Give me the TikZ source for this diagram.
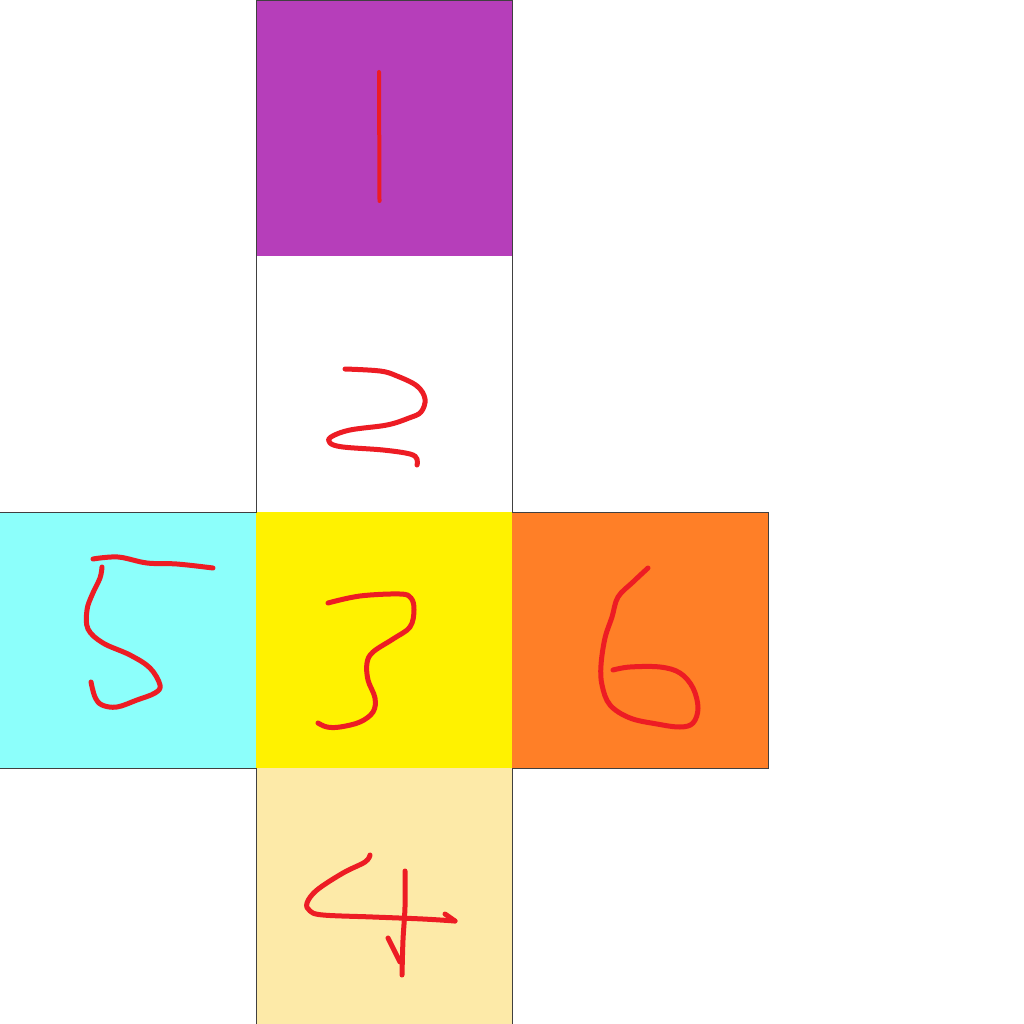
\documentclass[tikz,border=0pt]{standalone}
\begin{document}
\begin{tikzpicture}[x=1pt,y=-1pt,
  ink/.style={draw=inkred,line width=5pt,line cap=round,line join=round},
  edge/.style={draw=black!75,line width=0.8pt}]
\definecolor{inkred}{HTML}{ED1C24}
\definecolor{cpurple}{HTML}{B63EBA}
\definecolor{ccyan}{HTML}{8CFFFB}
\definecolor{cyellow}{HTML}{FFF200}
\definecolor{corange}{HTML}{FF7F27}
\definecolor{clight}{HTML}{FDEAA8}
\useasboundingbox (0,0) rectangle (1024,1024);
\fill[white] (0,0) rectangle (1024,1024);
% faces
\fill[cpurple] (256,0) rectangle (512,256);
\fill[white] (256,256) rectangle (512,512);
\fill[ccyan] (0,512) rectangle (256,768);
\fill[cyellow] (256,512) rectangle (512,768);
\fill[corange] (512,512) rectangle (768,768);
\fill[clight] (256,768) rectangle (512,1024);
% outline
\draw[edge] (0,768) -- (256,768) -- (256,1024) -- (512,1024) -- (512,768) -- (768,768) -- (768,512) -- (512,512) -- (512,0) -- (256,0) -- (256,512) -- (0,512);
% 1
\draw[ink,line width=4pt] (379,72) -- (379.5,201);
% 2
\draw[ink] plot[smooth,tension=0.6] coordinates {(345,369) (380,371) (397,376) (417,386) (425,399) (421,412) (409,418) (387,425) (350,430) (331,437) (330,443) (343,447) (383,450) (410,454) (417,459) (417,465)};
% 3
\draw[ink] plot[smooth,tension=0.6] coordinates {(328,603) (360,596) (400,594) (411,598) (414,610) (410,627) (393,639) (373,652) (367,663) (368,680) (375,698) (373,712) (360,722) (340,727) (327,727) (318,723)};
% 5
\draw[ink] plot[smooth,tension=0.6] coordinates {(93,559) (118,557) (147,563) (177,564) (213,568)};
\draw[ink] plot[smooth,tension=0.6] coordinates {(102,567) (100,578) (92,595) (87,610) (88,629) (103,643) (130,655) (150,668) (160,685) (155,693) (137,700) (117,707) (102,705) (95,697) (91,682)};
% 6
\draw[ink] plot[smooth,tension=0.6] coordinates {(648,568) (633,582) (618,597) (612,617) (605,638) (601,665) (602,685) (610,705) (630,718) (657,724) (680,727) (693,723) (698,708) (693,688) (680,673) (660,667) (630,667) (613,670)};
% 4
\draw[ink] plot[smooth,tension=0.6] coordinates {(370,855) (365,862) (343,873) (317,890) (307,903) (310,911) (323,915) (373,917) (423,919) (455,921)};
\draw[ink] (445,914) -- (455,921);
\draw[ink] plot[smooth,tension=0.6] coordinates {(405,871) (405,907) (403,940) (402,975)};
\draw[ink] (388,938) -- (400,962);
\end{tikzpicture}
\end{document}
